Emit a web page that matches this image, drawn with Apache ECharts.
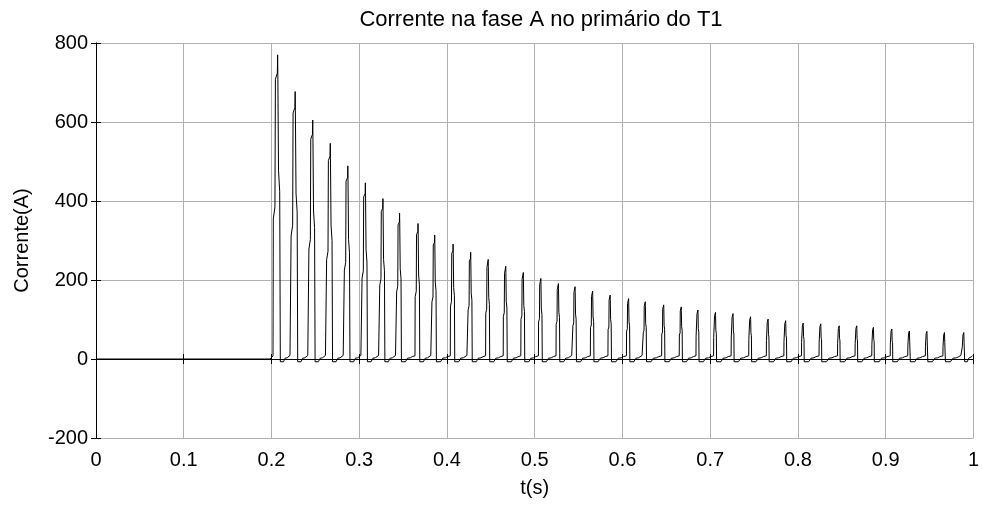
<!DOCTYPE html>
<html>
<head>
<meta charset="utf-8">
<script src="https://cdn.jsdelivr.net/npm/echarts@6/dist/echarts.min.js"></script>
<style>
  html, body { margin: 0; padding: 0; background: #fff; }
  #chart { width: 982px; height: 506px; }
</style>
</head>
<body>
<div id="chart"></div>
<script>
// Inrush current, phase A, T1 primary side
const peakTime = [0.207, 0.227, 0.247, 0.267, 0.287, 0.307, 0.327, 0.346, 0.367, 0.386,
                  0.407, 0.427, 0.447, 0.467, 0.487, 0.507, 0.527, 0.546, 0.566, 0.586,
                  0.607, 0.626, 0.647, 0.667, 0.686, 0.706, 0.726, 0.746, 0.766, 0.786,
                  0.806, 0.826, 0.847, 0.867, 0.886, 0.907, 0.927, 0.947, 0.967, 0.989];
const peakA = [770, 677, 605, 546, 489, 446, 406, 369, 343, 314,
               291, 270, 252, 235, 219, 204, 191, 183, 172, 162,
               153, 145, 137, 132, 124, 118, 115, 107, 101, 97,
               91, 89, 84, 84, 80, 76, 71, 70, 67, 67];
// base width of each current pulse (s)
const pulseWidth = [0.0085, 0.0080, 0.0075, 0.0072, 0.0068, 0.0065, 0.0062, 0.0058, 0.0056, 0.0054,
                    0.0052, 0.0050, 0.0048, 0.0047, 0.0046, 0.0045, 0.0044, 0.0043, 0.0042, 0.0041,
                    0.0040, 0.0039, 0.0038, 0.0037, 0.0036, 0.0035, 0.0035, 0.0034, 0.0033, 0.0033,
                    0.0032, 0.0032, 0.0031, 0.0031, 0.0030, 0.0030, 0.0030, 0.0029, 0.0029, 0.0029];
// trace before the transformer is energised
const idleTrace = [[0, 0], [0.1985, 0], [0.2005, 5]];
// small current between pulses (A)
const rippleA = [-7, -7, 2, 5, 3, 6, 9];

const xTicks = ['0', '0.1', '0.2', '0.3', '0.4', '0.5', '0.6', '0.7', '0.8', '0.9', '1'];
const yTicks = ['-200', '0', '200', '400', '600', '800'];

// relative positions of the ripple samples inside the gap between pulses
const rippleAt = [0, 0.3, 0.45, 0.55, 0.65, 0.8, 0.92];

function pulse(tp, P, w) {
  return [
    [tp - 0.62 * w, 8],
    [tp - 0.58 * w, 0.46 * P],
    [tp - 0.36 * w, 0.50 * P],
    [tp - 0.30 * w, 0.92 * P],
    [tp - 0.04 * w, 0.94 * P],
    [tp, P],
    [tp + 0.03 * w, 0.93 * P],
    [tp + 0.12 * w, 0.62 * P],
    [tp + 0.28 * w, 0.55 * P],
    [tp + 0.36 * w, rippleA[0]]
  ];
}

const trace = idleTrace.slice();
for (let i = 0; i < peakTime.length; i++) {
  const tp = peakTime[i], w = pulseWidth[i];
  pulse(tp, peakA[i], w).forEach(p => trace.push(p));
  const fe = tp + 0.36 * w;
  const ns = i + 1 < peakTime.length ? peakTime[i + 1] - 0.62 * pulseWidth[i + 1] : 1;
  const g = ns - fe;
  for (let k = 1; k < rippleA.length; k++) {
    const t = fe + rippleAt[k] * g;
    if (t <= 1) trace.push([t, rippleA[k]]);
  }
}
if (trace[trace.length - 1][0] < 1) trace.push([1, rippleA[rippleA.length - 1]]);

const font = "'Liberation Sans', Arial, sans-serif";
const chart = echarts.init(document.getElementById('chart'), null, { renderer: 'canvas' });

const axisLineStyle = { show: true, lineStyle: { color: '#000', width: 1 } };
const tickStyle = { show: true, inside: true, length: 5, lineStyle: { color: '#000', width: 1 } };

chart.setOption({
  animation: false,
  backgroundColor: '#fff',
  title: {
    text: 'Corrente na fase A no primário do T1',
    left: 536, top: 4, textAlign: 'center',
    textStyle: { fontFamily: font, fontSize: 22, fontWeight: 'normal', color: '#000' }
  },
  grid: { left: 96, right: 5, top: 43, bottom: 68 },
  xAxis: [{
    type: 'value', min: 0, max: 1, interval: 0.1, position: 'bottom',
    name: 't(s)', nameLocation: 'middle', nameGap: 40,
    nameTextStyle: { fontFamily: font, fontSize: 20, color: '#000' },
    axisLine: axisLineStyle, axisTick: tickStyle,
    axisLabel: { fontFamily: font, fontSize: 20, color: '#000', margin: 12,
                 formatter: (v, i) => xTicks[i] },
    splitLine: { show: true, lineStyle: { color: '#b0b0b0', width: 1 } }
  }, {
    type: 'value', min: 0, max: 1, interval: 0.1, position: 'top',
    axisLine: axisLineStyle, axisTick: tickStyle,
    axisLabel: { show: false }, splitLine: { show: false }
  }],
  yAxis: [{
    type: 'value', min: -200, max: 800, interval: 200, position: 'left',
    name: 'Corrente(A)', nameLocation: 'middle', nameGap: 64,
    nameTextStyle: { fontFamily: font, fontSize: 20, color: '#000' },
    axisLine: axisLineStyle, axisTick: tickStyle,
    axisLabel: { fontFamily: font, fontSize: 20, color: '#000', margin: 8,
                 formatter: (v, i) => yTicks[i] },
    splitLine: { show: true, lineStyle: { color: '#b0b0b0', width: 1 } }
  }, {
    type: 'value', min: -200, max: 800, interval: 200, position: 'right',
    axisLine: axisLineStyle, axisTick: tickStyle,
    axisLabel: { show: false }, splitLine: { show: false }
  }],
  series: [{
    type: 'line',
    data: trace,
    showSymbol: false,
    symbol: 'none',
    lineStyle: { color: '#000', width: 1 },
    silent: true
  }]
});
</script>
</body>
</html>
